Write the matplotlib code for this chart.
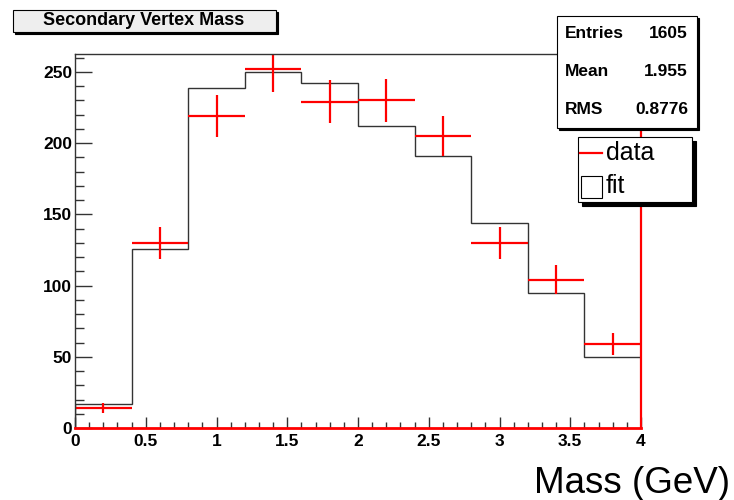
import numpy as np
import matplotlib
matplotlib.use("Agg")
import matplotlib.pyplot as plt
from matplotlib.patches import Rectangle
from matplotlib.lines import Line2D
from matplotlib.ticker import MultipleLocator

plt.rcParams['font.family'] = ['Liberation Sans', 'DejaVu Sans']

# histogram content
bin_edges = [0.0, 0.4, 0.8, 1.2, 1.6, 2.0, 2.4, 2.8, 3.2, 3.6, 4.0]
data_counts = [14, 130, 219, 252, 229, 230, 205, 130, 104, 59]
fit_counts = [17, 126, 239, 250, 242, 212, 191, 144, 95, 50]

title = "Secondary Vertex Mass"
stats_names = ["Entries", "Mean", "RMS"]
stats_values = ["1605", "1.955", "0.8776"]
legend_labels = ["data", "fit"]
xlabel = "Mass (GeV)"

W, H = 734, 500
fig = plt.figure(figsize=(W / 100, H / 100), dpi=100)

def fx(x):
    return x / W

def fy(y):
    return 1 - y / H

ax = fig.add_axes([fx(75), fy(428), fx(641) - fx(75), fy(54) - fy(428)])

edges = np.array(bin_edges)
centers = (edges[:-1] + edges[1:]) / 2
halfw = (edges[1:] - edges[:-1]) / 2
data = np.array(data_counts)

ax.stairs(fit_counts, edges, color='#333333', lw=1.0, baseline=0)
ax.errorbar(centers, data, xerr=halfw, yerr=np.sqrt(data), fmt='none',
            ecolor='red', elinewidth=1.6, capsize=0)

ax.set_xlim(0, 4)
ax.set_ylim(0, 262.6)

ax.xaxis.set_major_locator(MultipleLocator(0.5))
ax.xaxis.set_minor_locator(MultipleLocator(0.1))
ax.yaxis.set_major_locator(MultipleLocator(50))
ax.yaxis.set_minor_locator(MultipleLocator(10))
ax.set_xticks([0, 0.5, 1, 1.5, 2, 2.5, 3, 3.5, 4])
ax.set_xticklabels(['0', '0.5', '1', '1.5', '2', '2.5', '3', '3.5', '4'])

ax.tick_params(axis='y', which='major', direction='in', length=12.5, width=1,
               color='#333333', labelsize=12.5, pad=2)
ax.tick_params(axis='y', which='minor', direction='in', length=6.5, width=1, color='#333333')
ax.tick_params(axis='x', which='major', direction='in', length=8, width=1,
               color='#333333', labelsize=12.5, pad=4)
ax.tick_params(axis='x', which='minor', direction='in', length=4, width=1, color='#333333')
for lab in ax.get_xticklabels() + ax.get_yticklabels():
    lab.set_fontweight('bold')

ax.spines['left'].set_color('#333333')
ax.spines['left'].set_linewidth(1)
ax.spines['top'].set_color('#333333')
ax.spines['top'].set_linewidth(1)
ax.spines['right'].set_color('red')
ax.spines['right'].set_linewidth(1.6)
ax.spines['bottom'].set_color('red')
ax.spines['bottom'].set_linewidth(2)

def box(x0, y0, x1, y1, shadow, face):
    fig.patches.append(Rectangle((fx(x0 + shadow), fy(y1 + shadow)), fx(x1 - x0), fy(y0) - fy(y1),
                                 transform=fig.transFigure, facecolor='black', edgecolor='black',
                                 lw=0.8, zorder=5))
    fig.patches.append(Rectangle((fx(x0), fy(y1)), fx(x1 - x0), fy(y0) - fy(y1),
                                 transform=fig.transFigure, facecolor=face, edgecolor='black',
                                 lw=0.8, zorder=6))

# title box
box(13, 9.5, 276, 31.5, 2, '#eeeeee')
fig.text(fx(144), fy(20.5), title, ha='center', va='center', fontsize=13,
         fontweight='bold', zorder=7)

# stats box
box(557, 16, 697, 128, 2, 'white')
rows_y = [33, 71, 109]
for name, val, yy in zip(stats_names, stats_values, rows_y):
    fig.text(fx(565), fy(yy), name, ha='left', va='center', fontsize=12.5,
             fontweight='bold', zorder=7)
    fig.text(fx(688), fy(yy), val, ha='right', va='center', fontsize=12.5,
             fontweight='bold', zorder=7)

# legend box
box(578, 137, 692, 202, 4, 'white')
fig.lines.append(Line2D([fx(580), fx(602)], [fy(153), fy(153)], transform=fig.transFigure,
                        color='red', lw=1.6, zorder=7))
fig.patches.append(Rectangle((fx(581), fy(197.5)), fx(21), fy(176) - fy(197.5),
                             transform=fig.transFigure, facecolor='white', edgecolor='black',
                             lw=0.8, zorder=7))
fig.text(fx(606), fy(153), legend_labels[0], ha='left', va='center', fontsize=18, zorder=7)
fig.text(fx(606), fy(186), legend_labels[1], ha='left', va='center', fontsize=18, zorder=7)

fig.text(fx(730), fy(493), xlabel, ha='right', va='baseline', fontsize=26.5)

fig.savefig("out.png", dpi=100)
